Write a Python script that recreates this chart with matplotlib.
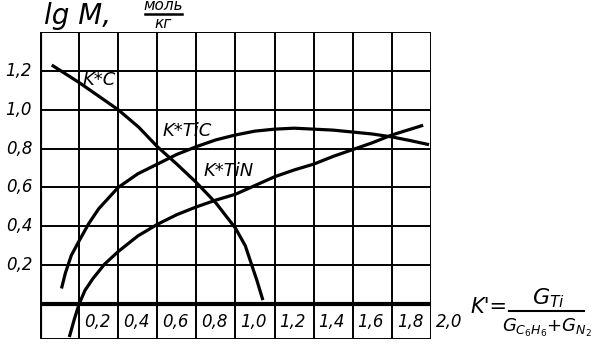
import matplotlib
matplotlib.use("Agg")
from matplotlib import pyplot as plt
import numpy as np

plt.rcParams["mathtext.fontset"] = "dejavusans"

# curves: K' -> lg M
kc_x = [0.06, 0.20, 0.30, 0.40, 0.505, 0.60, 0.70, 0.80, 0.90, 1.00, 1.05, 1.08, 1.11, 1.14]
kc_y = [1.23, 1.14, 1.07, 1.00, 0.91, 0.81, 0.72, 0.625, 0.52, 0.39, 0.30, 0.21, 0.12, 0.02]

tic_x = [0.11, 0.13, 0.16, 0.20, 0.25, 0.30, 0.40, 0.50, 0.60, 0.70, 0.80, 0.90, 1.00,
         1.10, 1.20, 1.30, 1.40, 1.50, 1.60, 1.70, 1.80, 1.90, 1.99]
tic_y = [0.08, 0.16, 0.25, 0.325, 0.415, 0.49, 0.60, 0.67, 0.72, 0.77, 0.81, 0.845, 0.87,
         0.89, 0.90, 0.905, 0.90, 0.895, 0.885, 0.875, 0.86, 0.84, 0.82]

tin_x = [0.15, 0.175, 0.20, 0.23, 0.27, 0.33, 0.40, 0.50, 0.60, 0.70, 0.80, 0.90, 1.00,
         1.10, 1.20, 1.30, 1.40, 1.50, 1.60, 1.70, 1.80, 1.96]
tin_y = [-0.17, -0.08, 0.0, 0.07, 0.13, 0.205, 0.27, 0.35, 0.41, 0.46, 0.50, 0.535, 0.565,
         0.61, 0.655, 0.69, 0.72, 0.76, 0.795, 0.83, 0.87, 0.92]

x_ticks = [0.2, 0.4, 0.6, 0.8, 1.0, 1.2, 1.4, 1.6, 1.8, 2.0]
y_ticks = [0.2, 0.4, 0.6, 0.8, 1.0, 1.2]

fig = plt.figure(figsize=(6, 3.51), dpi=100)
ax = fig.add_axes([40 / 600, 12 / 351, 391 / 600, 307 / 351])
ax.set_xlim(0, 2.0)
ax.set_ylim(-0.18, 1.4)
ax.axis("off")

# hand drawn grid
for x in np.arange(0.2, 2.01, 0.2):
    ax.axvline(x, color="black", lw=1.4)
for y in np.arange(0.2, 1.41, 0.2):
    ax.axhline(y, color="black", lw=1.4)
ax.axhline(-0.18, color="black", lw=1.4)
ax.axhline(0, color="black", lw=3.0)
ax.axvline(0, color="black", lw=3.0)

# curves
for xs, ys in [(kc_x, kc_y), (tic_x, tic_y), (tin_x, tin_y)]:
    ax.plot(xs, ys, color="black", lw=2.3, solid_capstyle="butt", solid_joinstyle="round")

font = dict(family="DejaVu Sans", style="italic", color="black")
ax.text(0.215, 1.155, "K*C", fontsize=13, ha="left", va="center", **font)
ax.text(0.625, 0.89, "K*TiC", fontsize=13, ha="left", va="center", **font)
ax.text(0.835, 0.685, "K*TiN", fontsize=13, ha="left", va="center", **font)

for y in y_ticks:
    ax.text(-0.04, y, ("%.1f" % y).replace(".", ","), fontsize=12,
            ha="right", va="center", **font)
for x in x_ticks:
    ax.text(x + 0.025, -0.09, ("%.1f" % x).replace(".", ","), fontsize=12,
            ha="left", va="center", **font)

# axis titles
fig.text(44 / 600, 1 - 16 / 351, "lg M,", fontsize=20, ha="left", va="center", **font)
fig.text(163 / 600, 1 - 6 / 351, "моль", fontsize=11, ha="center", va="center", **font)
fig.add_artist(plt.Line2D([145 / 600, 182 / 600], [1 - 14 / 351, 1 - 14 / 351],
                          color="black", lw=1.8))
fig.text(163 / 600, 1 - 23 / 351, "кг", fontsize=11, ha="center", va="center", **font)

fig.text(470 / 600, 1 - 307 / 351, "K'=", fontsize=15, ha="left", va="center", **font)
fig.text(548 / 600, 1 - 298 / 351, r"$G_{Ti}$", fontsize=16, ha="center", va="center")
fig.add_artist(plt.Line2D([509 / 600, 584 / 600], [1 - 311 / 351, 1 - 311 / 351],
                          color="black", lw=1.5))
fig.text(547 / 600, 1 - 328 / 351, r"$G_{C_6H_6}$+$G_{N_2}$", fontsize=13,
         ha="center", va="center")

plt.savefig("out.png", dpi=100)
